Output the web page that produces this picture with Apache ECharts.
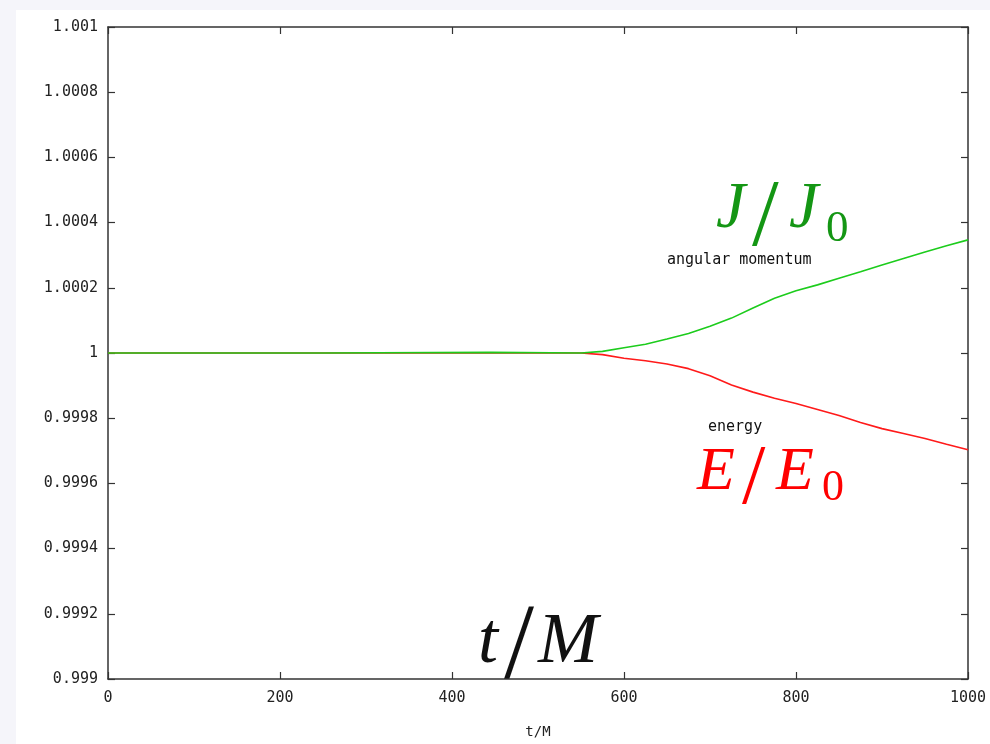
<!DOCTYPE html>
<html>
<head>
<meta charset="utf-8">
<script src="https://cdn.jsdelivr.net/npm/echarts@6/dist/echarts.min.js"></script>
<style>
html,body{margin:0;padding:0;background:#f5f5fa;}
#main{width:990px;height:744px;}
</style>
</head>
<body>
<div id="main"></div>
<script>
// time t/M
var tAngular=[0,250,251,445,446,550,575,600,625,650,675,700,725,750,775,800,825,850,875,900,925,950,975,1000];
var angularMomentum=[1,1,1.000002,1.000002,1,1,1.000005,1.000016,1.000027,1.000043,1.00006,1.000082,1.000107,1.000138,1.000168,1.000191,1.000209,1.000229,1.000249,1.00027,1.00029,1.00031,1.000329,1.000347];
var tEnergy=[0,550,575,600,625,650,675,700,725,750,775,800,825,850,875,900,925,950,975,1000];
var energy=[1,1,0.999995,0.999984,0.999976,0.999966,0.999952,0.99993,0.999902,0.99988,0.999861,0.999845,0.999827,0.999808,0.999787,0.999768,0.999753,0.999738,0.99972,0.999703];

function pairs(xs,ys){
	var out=[];
	for(var i=0;i<xs.length;i++){out.push([xs[i],ys[i]]);}
	return out;
}

var mono='"DejaVu Sans Mono", monospace';
var serif='"Liberation Serif", "DejaVu Serif", serif';
var greenTxt='#149614';
var redTxt='#ff0000';

//text piece placed by its baseline
function piece(txt,x,base,size,color,italic){
	return {type:'text',x:x,y:base+Math.round(size*0.22),
		style:{text:txt,font:(italic?'italic ':'')+size+'px '+serif,fill:color,verticalAlign:'bottom'}};
}

var chart=echarts.init(document.getElementById('main'));
var axisLine={onZero:false,lineStyle:{color:'#333',width:1.5}};
var tick={inside:true,length:7,lineStyle:{color:'#333',width:1.2}};
var options={
	backgroundColor:'#f5f5fa',
	animation:false,
	grid:{left:108,right:22,top:27,bottom:55},
	xAxis:[{
		type:'value',min:0,max:1000,interval:200,
		name:'t/M',nameLocation:'middle',nameGap:46,
		nameTextStyle:{fontFamily:mono,fontSize:14,color:'#222'},
		axisLine:axisLine,axisTick:tick,splitLine:{show:false},
		axisLabel:{fontFamily:mono,fontSize:15,color:'#222',margin:12,
			formatter:function(v){return String(v);}}
	},{
		type:'value',min:0,max:1000,interval:200,position:'top',
		axisLine:axisLine,axisTick:tick,splitLine:{show:false},
		axisLabel:{show:false}
	}],
	yAxis:[{
		type:'value',min:0.999,max:1.001,interval:0.0002,
		axisLine:axisLine,axisTick:tick,splitLine:{show:false},
		axisLabel:{fontFamily:mono,fontSize:15,color:'#222',margin:10,
			formatter:function(v){return String(+v.toFixed(4));}}
	},{
		type:'value',min:0.999,max:1.001,interval:0.0002,position:'right',
		axisLine:axisLine,axisTick:tick,splitLine:{show:false},
		axisLabel:{show:false}
	}],
	series:[{
		name:'energy',type:'line',xAxisIndex:0,yAxisIndex:0,
		data:pairs(tEnergy,energy),showSymbol:false,z:2,
		lineStyle:{color:'#ff1a1a',width:1.6}
	},{
		name:'angular momentum',type:'line',xAxisIndex:0,yAxisIndex:0,
		data:pairs(tAngular,angularMomentum),showSymbol:false,z:3,
		lineStyle:{color:'#1ccc1c',width:1.6}
	}],
	graphic:[
		{type:'rect',z:-10,shape:{x:16,y:10,width:974,height:734},style:{fill:'#ffffff'}},
		// J/J0
		piece('J',716,228,66,greenTxt,true),
		piece('/',752,247,96,greenTxt,false),
		piece('J',789,228,66,greenTxt,true),
		piece('0',826,242,45,greenTxt,false),
		{type:'text',x:667,y:260,style:{text:'angular momentum',font:'15px '+mono,fill:'#111',verticalAlign:'middle'}},
		// E/E0
		piece('E',697,490,62,redTxt,true),
		piece('/',742,505,84,redTxt,false),
		piece('E',776,490,62,redTxt,true),
		piece('0',822,500,44,redTxt,false),
		{type:'text',x:708,y:427,style:{text:'energy',font:'15px '+mono,fill:'#111',verticalAlign:'middle'}},
		// t/M
		piece('t',478,663,72,'#111',true),
		piece('/',504,680,108,'#111',false),
		piece('M',538,663,72,'#111',true)
	]
};
chart.setOption(options);
</script>
</body>
</html>
